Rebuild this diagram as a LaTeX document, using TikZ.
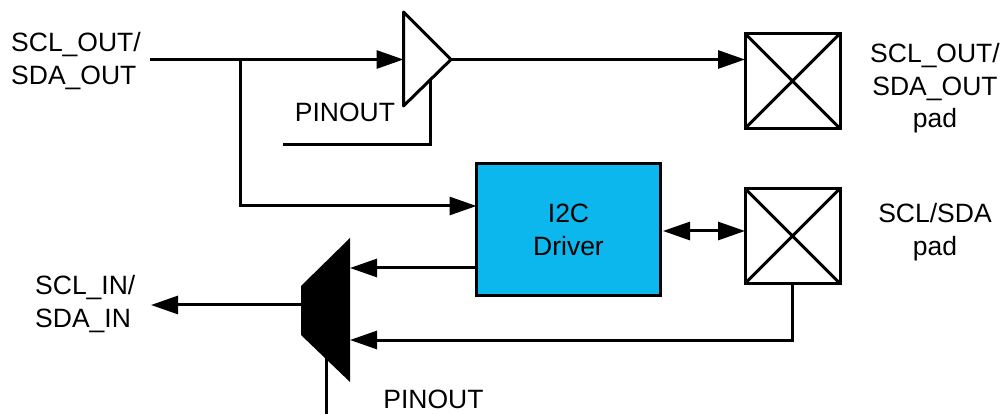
\documentclass[tikz,border=0pt]{standalone}
\usepackage{fontspec}
\setmainfont{Liberation Sans}
\usetikzlibrary{arrows.meta}
\definecolor{drvblue}{RGB}{11,183,236}
\tikzset{
  wire/.style={line width=3pt,line cap=butt,line join=miter},
  arr/.style={wire,-{Triangle[length=27pt,width=18pt]}},
  darr/.style={wire,{Triangle[length=27pt,width=18pt]}-{Triangle[length=27pt,width=18pt]}},
  padbox/.style={draw,line width=3pt,minimum width=95pt,minimum height=95pt,inner sep=0pt,outer sep=0pt},
  drvbox/.style={draw,fill=drvblue,line width=3pt,minimum width=184pt,minimum height=132pt,inner sep=0pt,outer sep=0pt,align=center},
  lbl/.style={align=center,inner sep=0pt,font=\fontsize{26.5pt}{32.5pt}\selectfont},
}
\begin{document}
\begin{tikzpicture}[x=1pt,y=-1pt]
\useasboundingbox (0,0) rectangle (1002,414);
% buffer and mux outlines
\coordinate (bufTop) at (403.5,12);
\coordinate (bufBot) at (403.5,106);
\coordinate (bufTip) at (451,59.5);
\coordinate (bufIn) at (403.5,59.5);
\coordinate (bufEn) at (430.5,79);
\coordinate (muxTR) at (350,238);
\coordinate (muxTL) at (301,286);
\coordinate (muxBL) at (301,335);
\coordinate (muxBR) at (350,382);
\coordinate (muxOut) at (301,305);
\coordinate (muxSel) at (326,358);
\coordinate (muxIn1) at (350,268);
\coordinate (muxIn2) at (350,340);
% boxes
\node[drvbox,font=\fontsize{26.5pt}{32.5pt}\selectfont] (drv) at (568.5,230) {I2C\\Driver};
\node[padbox] (padA) at (792.5,81) {};
\node[padbox] (padB) at (792.5,236) {};
\draw[line width=3pt] (padA.north west) -- (padA.south east) (padA.north east) -- (padA.south west);
\draw[line width=3pt] (padB.north west) -- (padB.south east) (padB.north east) -- (padB.south west);
% free ends
\coordinate (inStart) at (150,59.5);
\coordinate (junc) at (240.5,59.5);
\coordinate (juncLow) at (240.5,206);
\coordinate (enStart) at (283,145);
\coordinate (enCorner) at (430.5,145);
\coordinate (selEnd) at (326,414);
\coordinate (outEnd) at (151,305);
\coordinate (biL) at (663,231);
\coordinate (biR) at (745,231);
% connectors
\draw[arr] (inStart) -- (bufIn);
\draw[arr] (bufTip) -- (padA.west |- bufTip);
\draw[arr] (junc) -- (juncLow) -- (drv.west |- juncLow);
\draw[wire] (enStart) -- (enCorner) -- (bufEn);
\draw[darr] (biL) -- (biR);
\draw[arr] (drv.west |- muxIn1) -- (muxIn1);
\draw[arr] (padB.south) -- (padB.south |- muxIn2) -- (muxIn2);
\draw[arr] (muxOut) -- (outEnd);
\draw[wire] (muxSel) -- (selEnd);
% shapes
\draw[line width=3pt,line join=round] (bufTop) -- (bufTip) -- (bufBot) -- cycle;
\fill[black] (muxTR) -- (muxTL) -- (muxBL) -- (muxBR) -- cycle;
% labels
\node[lbl,align=left,anchor=west] (lblA) at (11,61) {SCL\_OUT/\\SDA\_OUT};
\node[lbl] (lblB) at (935,88.5) {SCL\_OUT/\\SDA\_OUT\\pad};
\node[lbl] (lblC) at (935,232) {SCL/SDA\\pad};
\node[lbl,align=left,anchor=west] (lblD) at (35,304) {SCL\_IN/\\SDA\_IN};
\node[lbl] (lblE) at (345,112) {PINOUT};
\node[lbl] (lblF) at (433.5,399) {PINOUT};
\end{tikzpicture}
\end{document}
